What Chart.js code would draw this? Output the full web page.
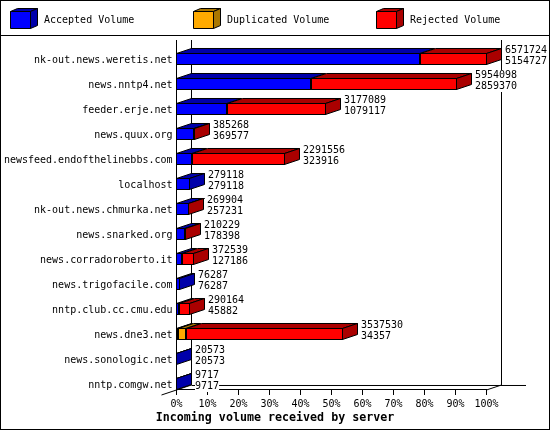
<!DOCTYPE html>
<html>
<head>
<meta charset="utf-8">
<script src="https://cdn.jsdelivr.net/npm/chart.js@4/dist/chart.umd.min.js"></script>
<style>
  html, body { margin: 0; padding: 0; background: #fff; }
  canvas { display: block; }
</style>
</head>
<body>
<canvas id="volumeChart" width="550" height="430"></canvas>
<script>
const hosts = ['nk-out.news.weretis.net', 'news.nntp4.net', 'feeder.erje.net', 'news.quux.org',
  'newsfeed.endofthelinebbs.com', 'localhost', 'nk-out.news.chmurka.net', 'news.snarked.org',
  'news.corradoroberto.it', 'news.trigofacile.com', 'nntp.club.cc.cmu.edu', 'news.dne3.net',
  'news.sonologic.net', 'nntp.comgw.net'];

const accepted = [5154727, 2859370, 1079117, 369577, 323916, 279118, 257231, 178398, 127186, 76287, 45882, 34357, 20573, 9717];
const duplicated = [0, 0, 0, 0, 0, 0, 0, 0, 0, 0, 0, 165000, 0, 0];
const rejected = [1416997, 3094728, 2097972, 15691, 1967640, 0, 12673, 31831, 245353, 0, 244282, 3338173, 0, 0];
const totals = [6571724, 5954098, 3177089, 385268, 2291556, 279118, 269904, 210229, 372539, 76287, 290164, 3537530, 20573, 9717];

const axisMax = 6571724;
const fontMono = '"DejaVu Sans Mono", monospace';

const front = ['#0000ff', '#ffaa00', '#ff0000'];
const shade = ['#0000aa', '#aa7700', '#aa0000'];
const depthX = 15, depthY = 5;
const rowShift = 6.5;  // bars sit at the bottom of their band, not the centre

function poly(ctx, pts, fill) {
  ctx.beginPath();
  pts.forEach((p, i) => i ? ctx.lineTo(p[0], p[1]) : ctx.moveTo(p[0], p[1]));
  ctx.closePath();
  ctx.fillStyle = fill;
  ctx.fill();
  ctx.strokeStyle = '#000';
  ctx.lineWidth = 1;
  ctx.stroke();
}

function line(ctx, x0, y0, x1, y1) {
  ctx.beginPath();
  ctx.moveTo(x0, y0);
  ctx.lineTo(x1, y1);
  ctx.strokeStyle = '#000';
  ctx.lineWidth = 1;
  ctx.stroke();
}

const frame3d = {
  id: 'frame3d',
  afterLayout(chart) {
    // title is centred on the whole picture, not on the padded box
    chart.titleBlock.left = 0;
    chart.titleBlock.right = chart.width;
    chart.titleBlock.width = chart.width;
  },
  afterDatasetsUpdate(chart) {
    // snap bars to whole pixels so the outlines stay hard
    const left = Math.floor(chart.chartArea.left);
    chart.data.datasets.forEach((ds, d) => {
      chart.getDatasetMeta(d).data.forEach(bar => {
        bar.x = Math.max(Math.round(bar.x), left + 1);
        bar.base = d === 0 ? left : Math.max(Math.round(bar.base), left + 1);
      });
    });
  },
  beforeDatasetsDraw(chart) {
    const ctx = chart.ctx, a = chart.chartArea;
    ctx.save();
    // back wall and floor
    line(ctx, a.left + depthX, a.top, a.left + depthX, a.bottom - depthY);
    line(ctx, a.right + depthX, a.top, a.right + depthX, a.bottom - depthY);
    line(ctx, a.left + depthX, a.bottom - depthY + 0.5, 526, a.bottom - depthY + 0.5);
    line(ctx, a.left - depthX, a.bottom + depthY, a.left + depthX, a.bottom - depthY);
    line(ctx, a.right, a.bottom, a.right + depthX, a.bottom - depthY);

    // tops and sides of the stacks, positions come from the bar elements
    ctx.translate(0, rowShift);
    hosts.forEach((h, i) => {
      let last = null;
      chart.data.datasets.forEach((ds, d) => {
        if (!ds.data[i]) return;
        const bar = chart.getDatasetMeta(d).data[i];
        const top = bar.y - 5.5;
        const x0 = bar.base + 0.5, x1 = bar.x - 0.5;
        poly(ctx, [[x0, top], [x0 + depthX, top - depthY],
          [x1 + depthX, top - depthY], [x1, top]], shade[d]);
        last = { bar, d };
      });
      const b = last.bar, top = b.y - 5.5, x1 = b.x - 0.5;
      poly(ctx, [[x1, top], [x1 + depthX, top - depthY],
        [x1 + depthX, top - depthY + 11], [x1, top + 11]], shade[last.d]);
    });
    ctx.restore();
    ctx.save();
    ctx.translate(0, rowShift);
  },
  afterDatasetsDraw(chart) {
    const ctx = chart.ctx;
    ctx.restore();
    ctx.save();
    // value labels next to each stack
    const yScale = chart.scales.y, xScale = chart.scales.x;
    ctx.font = '10px ' + fontMono;
    ctx.textBaseline = 'middle';
    hosts.forEach((h, i) => {
      const x = Math.round(xScale.getPixelForValue(totals[i])) + depthX + 3;
      const y = yScale.getPixelForTick(i) + rowShift;
      [[totals[i], y - 9], [accepted[i], y + 2]].forEach(([v, ty]) => {
        const t = String(v);
        ctx.fillStyle = '#fff';
        ctx.fillRect(x, ty - 5, ctx.measureText(t).width, 11);
        ctx.fillStyle = '#000';
        ctx.fillText(t, x, ty);
      });
    });
    ctx.restore();
  },
  afterDraw(chart) {
    const ctx = chart.ctx;
    ctx.save();
    // outer frame and legend band
    ctx.strokeStyle = '#000';
    ctx.lineWidth = 1;
    ctx.strokeRect(0.5, 0.5, 549, 429);
    line(ctx, 0, 35.5, 550, 35.5);
    // legend
    const boxX = [10, 193, 376];
    ctx.font = '10px ' + fontMono;
    ctx.textBaseline = 'middle';
    chart.data.datasets.forEach((ds, d) => {
      const x = boxX[d] + 0.5;
      poly(ctx, [[x, 11.5], [x + 7, 8.5], [x + 27, 8.5], [x + 20, 11.5]], shade[d]);
      poly(ctx, [[x + 20, 11.5], [x + 27, 8.5], [x + 27, 25.5], [x + 20, 28.5]], shade[d]);
      poly(ctx, [[x, 11.5], [x + 20, 11.5], [x + 20, 28.5], [x, 28.5]], front[d]);
      ctx.fillStyle = '#000';
      ctx.fillText(ds.label, boxX[d] + 34, 20);
    });
    ctx.restore();
  }
};

const barStyle = { borderColor: '#000', borderWidth: 1, borderSkipped: false, inflateAmount: 0, barThickness: 12, clip: false };

new Chart(document.getElementById('volumeChart').getContext('2d'), {
  type: 'bar',
  plugins: [frame3d],
  data: {
    labels: hosts,
    datasets: [
      { label: 'Accepted Volume', data: accepted, backgroundColor: front[0], ...barStyle },
      { label: 'Duplicated Volume', data: duplicated, backgroundColor: front[1], ...barStyle },
      { label: 'Rejected Volume', data: rejected, backgroundColor: front[2], ...barStyle }
    ]
  },
  options: {
    indexAxis: 'y',
    responsive: false,
    animation: false,
    layout: { padding: { top: 40, right: 63.5, left: 0, bottom: 4 } },
    plugins: {
      legend: { display: false },
      tooltip: { enabled: false },
      title: {
        display: true,
        position: 'bottom',
        text: 'Incoming volume received by server',
        color: '#000',
        font: { family: fontMono, size: 11.67, weight: 'bold' },
        padding: { top: 0, bottom: 1 }
      }
    },
    scales: {
      x: {
        stacked: true,
        min: 0,
        max: axisMax,
        afterBuildTicks(scale) {
          scale.ticks = [0, 10, 20, 30, 40, 50, 60, 70, 80, 90, 100].map(p => ({ value: axisMax * p / 100 }));
        },
        afterFit(scale) { scale.height = 21; },
        border: { display: true, color: '#000' },
        grid: { drawOnChartArea: false, drawTicks: true, tickLength: 5, color: '#000' },
        ticks: {
          autoSkip: false,
          maxRotation: 0,
          color: '#000',
          padding: 3,
          font: { family: fontMono, size: 10 },
          callback: v => Math.round(v / axisMax * 100) + '%'
        }
      },
      y: {
        stacked: true,
        afterFit(scale) { scale.width = 176.5; },
        border: { display: true, color: '#000' },
        grid: { display: false, drawTicks: false, tickLength: 0 },
        ticks: {
          autoSkip: false,
          color: '#000',
          padding: 4,
          labelOffset: rowShift + 1,
          font: { family: fontMono, size: 10 }
        }
      }
    }
  }
});
</script>
</body>
</html>
